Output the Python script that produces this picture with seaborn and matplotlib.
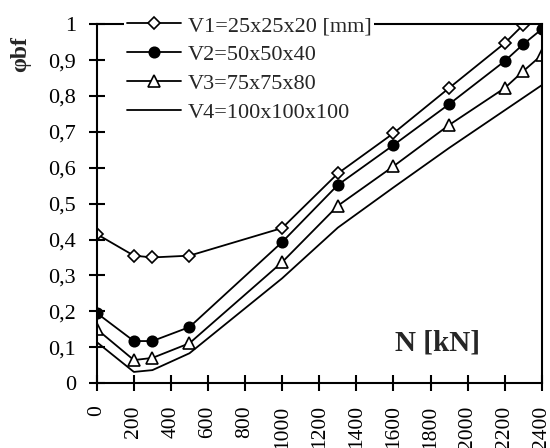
import numpy as np
import pandas as pd
import matplotlib
matplotlib.use("Agg")
import matplotlib.pyplot as plt
import seaborn as sns

# Axial force N [kN]
n_kn = [0, 200, 300, 500, 1000, 1300, 1600, 1900, 2200, 2300, 2400]

# phi_bf for each specimen size
v1 = [0.415, 0.355, 0.350, 0.355, 0.432, 0.584, 0.696, 0.822, 0.947, 0.998, 1.05]
v2 = [0.195, 0.117, 0.117, 0.156, 0.393, 0.552, 0.663, 0.777, 0.897, 0.944, 0.986]
v3 = [0.150, 0.064, 0.070, 0.111, 0.337, 0.494, 0.604, 0.719, 0.822, 0.869, 0.914]
v4 = [0.114, 0.031, 0.036, 0.083, 0.292, 0.433, 0.545, 0.655, 0.760, 0.795, 0.830]

labels = ["V1=25x25x20 [mm]", "V2=50x50x40", "V3=75x75x80", "V4=100x100x100"]
y_ticks = [0, 0.1, 0.2, 0.3, 0.4, 0.5, 0.6, 0.7, 0.8, 0.9, 1.0]
y_tick_labels = ["0", "0,1", "0,2", "0,3", "0,4", "0,5", "0,6", "0,7", "0,8", "0,9", "1"]
x_ticks = list(range(0, 2401, 200))

df = pd.DataFrame({
    "N": n_kn * 4,
    "phi": v1 + v2 + v3 + v4,
    "series": np.repeat(labels, len(n_kn)),
})

sns.set_style("white")
plt.rcParams["font.family"] = ["Liberation Serif", "DejaVu Serif"]

fig = plt.figure(figsize=(5.5, 4.48), dpi=100)
ax = fig.add_axes([0.176, 0.145, 0.809, 0.801])

styles = {
    labels[0]: dict(marker="D", markersize=6, markerfacecolor="white"),
    labels[1]: dict(marker="o", markersize=7.5, markerfacecolor="black"),
    labels[2]: dict(marker="^", markersize=9, markerfacecolor="white"),
    labels[3]: dict(marker=None),
}

for lab in labels:
    sub = df[df["series"] == lab]
    sns.lineplot(data=sub, x="N", y="phi", ax=ax, color="black", linewidth=1.3,
                 markeredgecolor="black", markeredgewidth=1.2, label=lab,
                 **styles[lab])

ax.set_xlim(0, 2400)
ax.set_ylim(0, 1.0)
ax.set_xticks(x_ticks)
ax.set_xticklabels([str(t) for t in x_ticks], rotation=90, fontsize=15.5)
ax.set_yticks(y_ticks)
ax.set_yticklabels(y_tick_labels, fontsize=16)
ax.tick_params(axis="both", direction="inout", length=12, width=1.5, color="black",
               labelcolor="black", left=True, bottom=True)
ax.tick_params(axis="x", pad=10)
ax.tick_params(axis="y", pad=9)
for side in ["left", "bottom", "right", "top"]:
    ax.spines[side].set_visible(True)
    ax.spines[side].set_color("black")
    ax.spines[side].set_linewidth(1.5)

ax.set_xlabel("")
ax.set_ylabel("")
fig.text(21 / 550, 1 - 54 / 448, "φbf", rotation=90, fontsize=17, fontweight="bold",
         ha="center", va="center")
ax.text(1837, 0.111, "N [kN]", fontsize=21, fontweight="bold", ha="center", va="center")

leg = ax.legend(loc="upper left", bbox_to_anchor=(0.062, 1.03), frameon=True,
                fontsize=16, handlelength=2.45, handletextpad=0.3, labelspacing=0.38,
                borderpad=0.1, borderaxespad=0.0, markerscale=1.0)
leg.get_frame().set_edgecolor("none")
leg.get_frame().set_facecolor("white")
leg.get_frame().set_alpha(1.0)
leg.set_zorder(5)

fig.savefig("out.png", dpi=100, facecolor="white")
